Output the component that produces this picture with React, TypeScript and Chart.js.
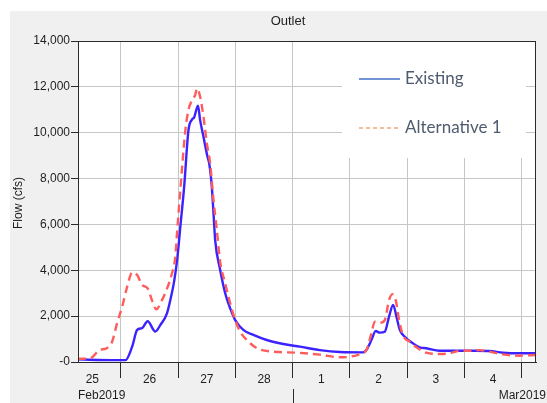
import React, { useEffect, useRef } from 'react';
import { Chart, registerables } from 'chart.js';

Chart.register(...registerables);

// ---- data (hours since 25 Feb 2019 00:00) ----
const existingHours = [6, 14.2, 25.9, 28.7, 30.8, 32.9, 35.2, 38.4, 40.5, 43.3, 44.7, 46.4, 47.7, 48.9, 50.5, 52.3, 53.8, 54.7, 56.3, 57.2, 58.6, 60.3, 61.0, 62.1, 62.8, 63.5, 65.6, 67.7, 69.8, 71.9, 75.3, 79.5, 85.1, 92.1, 99.0, 107.4, 115.8, 125.5, 126.9, 129.0, 130.8, 132.5, 134.6, 136.4, 138.1, 139.5, 140.9, 143.0, 146.4, 149.2, 152.0, 157.6, 166.0, 172.9, 178.5, 184.1, 191.0, 198];
const existingFlow = [115, 90, 80, 670, 1400, 1480, 1780, 1330, 1610, 2120, 2700, 3580, 4590, 5900, 7640, 10100, 10580, 10670, 11180, 10550, 9820, 8950, 8660, 7640, 6500, 5320, 4010, 3000, 2340, 1830, 1400, 1180, 960, 785, 670, 520, 436, 420, 520, 960, 1350, 1280, 1320, 1980, 2490, 1980, 1400, 1100, 815, 640, 600, 490, 490, 490, 480, 405, 380, 380];

const altHours = [6, 11.2, 15.0, 18.2, 20.3, 22.4, 24.5, 26.6, 28.7, 30.8, 32.9, 35.2, 37.0, 38.8, 41.2, 43.6, 45.4, 46.8, 47.5, 48.9, 51.0, 52.3, 53.8, 55.1, 55.9, 57.2, 58.6, 60.0, 61.4, 62.8, 64.2, 65.6, 67.7, 69.8, 71.9, 74.0, 76.8, 81.0, 87.9, 97.7, 107.4, 115.8, 120.0, 124.9, 126.9, 129.0, 130.4, 132.5, 134.6, 136.4, 137.8, 139.2, 140.6, 142.2, 145.0, 148.5, 152.0, 157.6, 161.8, 166.0, 170.1, 174.3, 178.5, 184.1, 191.0, 198];
const altFlow = [140, 170, 520, 610, 885, 1700, 2410, 3280, 3900, 3790, 3360, 3210, 2700, 2300, 2700, 3280, 3870, 4590, 5600, 7500, 10100, 10990, 11420, 11640, 11930, 11570, 10700, 9540, 8660, 7060, 5760, 4370, 3430, 2560, 1830, 1320, 960, 600, 450, 405, 320, 205, 230, 380, 520, 1250, 1760, 1710, 1830, 2700, 2960, 2700, 1830, 1180, 885, 600, 405, 350, 380, 490, 490, 520, 450, 335, 275, 305];

const seriesNames = ['Existing', 'Alternative 1'];
const yTickValues = [0, 2000, 4000, 6000, 8000, 10000, 12000, 14000];
const dayBoundaryHours = [24, 48, 72, 96, 120, 144, 168, 192];
const dayLabelHours = [12, 36, 60, 84, 108, 132, 156, 180];
const dayLabels = ['25', '26', '27', '28', '1', '2', '3', '4'];
const monthLabels = ['Feb2019', 'Mar2019'];
const monthStartHours = [0, 96];
const chartTitle = 'Outlet';
const yAxisTitle = 'Flow (cfs)';

const FONT = '"Liberation Sans", Arial, sans-serif';
const GRID = '#c6c6c6';
const AXIS = '#2a2a2a';

const decorPlugin = {
  id: 'decor',
  beforeDraw(chart: any) {
    const { ctx, chartArea: a } = chart;
    ctx.save();
    ctx.fillStyle = '#ffffff';
    ctx.fillRect(0, 0, chart.width, chart.height);
    ctx.fillStyle = '#f0f0f0';
    ctx.fillRect(10, 11, chart.width - 10, chart.height - 11);
    ctx.fillStyle = '#ffffff';
    ctx.fillRect(a.left, a.top, a.right - a.left, a.bottom - a.top);
    ctx.restore();
  },
  beforeDatasetsDraw(chart: any) {
    const { ctx } = chart;
    ctx.save();
    // legend box
    ctx.fillStyle = '#ffffff';
    ctx.fillRect(342, 42, 184, 116);
    ctx.font = '17px Lato, "Open Sans", sans-serif';
    ctx.textBaseline = 'middle';
    ctx.textAlign = 'left';
    ctx.fillStyle = '#4f5b6e';
    // Existing
    ctx.strokeStyle = '#4472c4';
    ctx.lineWidth = 1.5;
    ctx.setLineDash([]);
    ctx.beginPath();
    ctx.moveTo(359, 79);
    ctx.lineTo(400, 79);
    ctx.stroke();
    ctx.fillText(seriesNames[0], 405, 79);
    // Alternative 1
    ctx.strokeStyle = '#f4a77a';
    ctx.setLineDash([4, 3]);
    ctx.beginPath();
    ctx.moveTo(359, 128);
    ctx.lineTo(398, 128);
    ctx.stroke();
    ctx.setLineDash([]);
    ctx.fillText(seriesNames[1], 405, 128);
    ctx.restore();
  },
  afterDraw(chart: any) {
    const { ctx, chartArea: a } = chart;
    const xs = chart.scales.x;
    ctx.save();
    // plot frame
    ctx.strokeStyle = AXIS;
    ctx.lineWidth = 1;
    ctx.strokeRect(Math.round(a.left) + 0.5, Math.round(a.top) + 0.5, Math.round(a.right - a.left) - 1, Math.round(a.bottom - a.top));
    // title
    ctx.fillStyle = '#1e1e1e';
    ctx.font = '13px ' + FONT;
    ctx.textAlign = 'center';
    ctx.textBaseline = 'middle';
    ctx.fillText(chartTitle, 288, 21);
    // y title
    ctx.save();
    ctx.translate(19, 203);
    ctx.rotate(-Math.PI / 2);
    ctx.font = '12px ' + FONT;
    ctx.fillText(yAxisTitle, 0, 0);
    ctx.restore();
    // month row
    ctx.font = '12px ' + FONT;
    ctx.textBaseline = 'middle';
    ctx.textAlign = 'left';
    ctx.fillText(monthLabels[0], Math.round(xs.getPixelForValue(Math.max(monthStartHours[0], xs.min))), 396);
    ctx.textAlign = 'right';
    ctx.fillText(monthLabels[1], 546, 396);
    const sx = Math.round(xs.getPixelForValue(monthStartHours[1])) + 0.5;
    ctx.strokeStyle = AXIS;
    ctx.beginPath();
    ctx.moveTo(sx, 389);
    ctx.lineTo(sx, 403);
    ctx.stroke();
    ctx.restore();
  },
};

export default function App() {
  const ref = useRef<HTMLCanvasElement | null>(null);

  useEffect(() => {
    if (!ref.current) return;
    const existing = existingHours.map((h, i) => ({ x: h, y: existingFlow[i] }));
    const alt = altHours.map((h, i) => ({ x: h, y: altFlow[i] }));
    const chart = new Chart(ref.current, {
      type: 'line',
      data: {
        datasets: [
          {
            label: seriesNames[1],
            data: alt,
            borderColor: '#ff5c5c',
            borderWidth: 2.4,
            borderDash: [8, 5],
            pointRadius: 0,
            cubicInterpolationMode: 'monotone',
            fill: false,
          },
          {
            label: seriesNames[0],
            data: existing,
            borderColor: '#3b22ff',
            borderWidth: 2.4,
            pointRadius: 0,
            cubicInterpolationMode: 'monotone',
            fill: false,
          },
        ],
      },
      options: {
        animation: false,
        responsive: false,
        devicePixelRatio: 1,
        layout: { padding: { left: 0, right: 11, top: 41, bottom: 0 } },
        plugins: { legend: { display: false }, title: { display: false }, tooltip: { enabled: false } },
        scales: {
          x: {
            type: 'linear',
            min: 6,
            max: 198,
            afterBuildTicks: (s: any) => {
              const vals = [...dayLabelHours, ...dayBoundaryHours].sort((p, q) => p - q);
              s.ticks = vals.map((v) => ({ value: v }));
            },
            afterFit: (s: any) => {
              s.height = 41;
            },
            ticks: {
              autoSkip: false,
              maxRotation: 0,
              minRotation: 0,
              padding: -6,
              color: '#1e1e1e',
              font: { family: FONT, size: 12 },
              callback: (v: any) => {
                const i = dayLabelHours.indexOf(Number(v));
                return i >= 0 ? dayLabels[i] : '';
              },
            },
            grid: {
              color: (c: any) => (dayBoundaryHours.includes(c.tick?.value) ? GRID : 'rgba(0,0,0,0)'),
              tickColor: (c: any) => (dayBoundaryHours.includes(c.tick?.value) ? AXIS : 'rgba(0,0,0,0)'),
              tickLength: 16,
              drawTicks: true,
            },
            border: { color: AXIS, width: 1 },
          },
          y: {
            min: 0,
            max: 14000,
            afterBuildTicks: (s: any) => {
              s.ticks = yTickValues.map((v) => ({ value: v }));
            },
            afterFit: (s: any) => {
              s.width = 78;
            },
            ticks: {
              padding: 1,
              color: '#1e1e1e',
              font: { family: FONT, size: 12 },
              callback: (v: any) => (Number(v) === 0 ? '-0' : Number(v).toLocaleString('en-US')),
            },
            grid: { color: GRID, tickColor: AXIS, tickLength: 7, drawTicks: true },
            border: { color: AXIS, width: 1 },
          },
        },
      },
      plugins: [decorPlugin],
    } as any);
    return () => chart.destroy();
  }, []);

  return (
    <div style={{ position: 'absolute', left: 0, top: 0, width: 547, height: 403 }}>
      <canvas ref={ref} width={547} height={403} style={{ display: 'block', width: 547, height: 403 }} />
    </div>
  );
}
